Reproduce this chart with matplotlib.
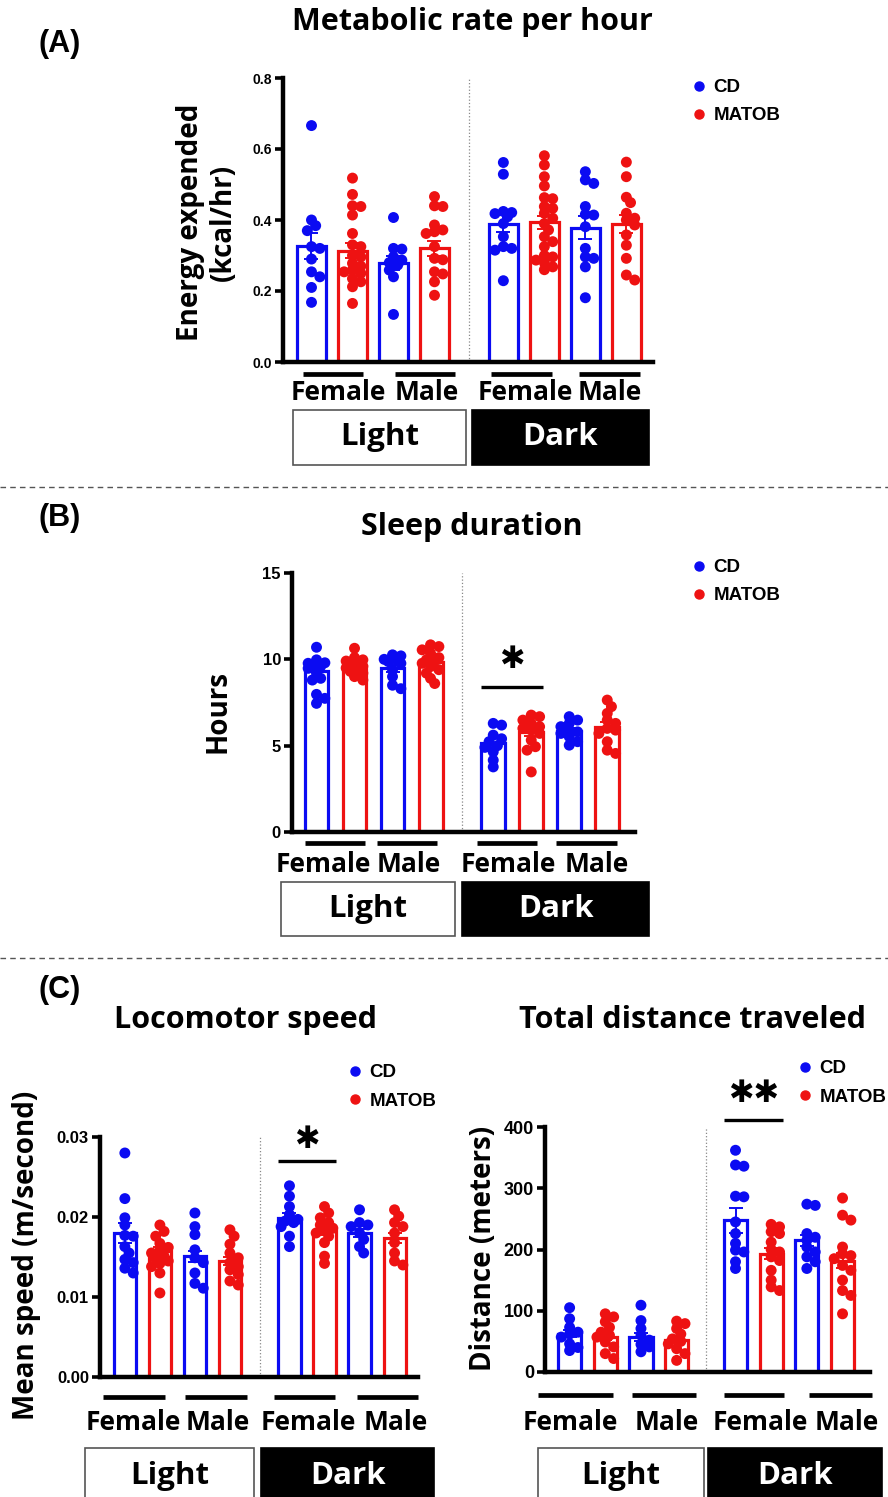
import numpy as np
import matplotlib
matplotlib.use('Agg')
import matplotlib.pyplot as plt
from matplotlib.patches import Rectangle
from matplotlib.lines import Line2D

W, H = 888, 1497
BLUE = '#0B0BF2'
RED = '#EE1212'
TXT = 'Open Sans'
NUM = 'Liberation Sans'

sexes = ['Female', 'Male', 'Female', 'Male']
phases = ['Light', 'Dark']
diets = ['CD', 'MATOB']

# ---- (A) energy expended (kcal/hr); order: L-F-CD, L-F-MATOB, L-M-CD, L-M-MATOB, D-F-CD, ...
met_points = [
    [0.666, 0.384, 0.40, 0.37, 0.325, 0.32, 0.29, 0.254, 0.24, 0.21, 0.168],
    [0.518, 0.472, 0.44, 0.438, 0.414, 0.362, 0.33, 0.325, 0.30, 0.296, 0.278, 0.27,
     0.259, 0.254, 0.25, 0.235, 0.226, 0.212, 0.165],
    [0.407, 0.32, 0.318, 0.296, 0.287, 0.28, 0.273, 0.259, 0.24, 0.134],
    [0.466, 0.44, 0.438, 0.386, 0.372, 0.367, 0.362, 0.325, 0.292, 0.288, 0.254,
     0.248, 0.226, 0.188],
    [0.562, 0.529, 0.424, 0.421, 0.418, 0.409, 0.39, 0.353, 0.325, 0.32, 0.315, 0.229],
    [0.581, 0.555, 0.522, 0.496, 0.463, 0.46, 0.438, 0.433, 0.419, 0.405, 0.39, 0.372,
     0.353, 0.339, 0.325, 0.30, 0.296, 0.287, 0.28, 0.268, 0.26],
    [0.536, 0.513, 0.503, 0.438, 0.416, 0.414, 0.381, 0.32, 0.296, 0.292, 0.268, 0.181],
    [0.563, 0.522, 0.464, 0.449, 0.419, 0.405, 0.40, 0.386, 0.358, 0.329, 0.292,
     0.245, 0.231],
]
met_means = [0.327, 0.314, 0.278, 0.32, 0.39, 0.393, 0.378, 0.388]
met_sem = [0.036, 0.02, 0.02, 0.022, 0.025, 0.017, 0.032, 0.025]

# ---- (B) sleep duration (hours)
sleep_points = [
    [10.7, 9.97, 9.77, 9.62, 9.48, 9.2, 8.9, 8.8, 7.97, 7.74, 7.45, 9.6, 9.8],
    [10.64, 10.1, 9.97, 9.9, 9.87, 9.77, 9.6, 9.58, 9.5, 9.4, 9.3, 9.2, 9.0, 8.8],
    [10.26, 10.2, 10.0, 9.97, 9.87, 9.77, 9.4, 9.0, 8.5, 8.3],
    [10.84, 10.74, 10.55, 10.35, 10.1, 9.97, 9.9, 9.77, 9.58, 9.4, 9.2, 8.9, 8.6],
    [6.29, 6.19, 5.61, 5.4, 5.23, 5.0, 4.9, 4.64, 4.16, 3.77],
    [6.77, 6.68, 6.48, 6.29, 6.1, 6.0, 5.9, 5.71, 5.32, 4.94, 4.74, 3.48],
    [6.68, 6.48, 6.29, 6.1, 5.9, 5.8, 5.71, 5.52, 5.23, 5.03],
    [7.64, 7.26, 6.87, 6.48, 6.29, 6.0, 5.9, 5.71, 5.23, 4.74, 4.55],
]
sleep_means = [9.33, 9.6, 9.48, 9.87, 5.17, 5.77, 5.86, 6.1]
sleep_sem = [0.3, 0.12, 0.2, 0.15, 0.25, 0.2, 0.15, 0.25]

# ---- (C) locomotor speed (m/second)
speed_points = [
    [0.028, 0.0223, 0.0199, 0.019, 0.0177, 0.0176, 0.0163, 0.0155, 0.0147, 0.0143,
     0.0136, 0.013],
    [0.019, 0.0182, 0.0176, 0.0167, 0.0162, 0.0158, 0.0155, 0.0151, 0.0148, 0.0145,
     0.0142, 0.0138, 0.013, 0.0105],
    [0.0205, 0.0188, 0.0178, 0.0159, 0.0149, 0.0143, 0.013, 0.0117, 0.0111],
    [0.0184, 0.0176, 0.0166, 0.0155, 0.0149, 0.0143, 0.0138, 0.0134, 0.0128, 0.012,
     0.0115],
    [0.0239, 0.0226, 0.0213, 0.0203, 0.0197, 0.0195, 0.0193, 0.0188, 0.0176, 0.0163],
    [0.0213, 0.0205, 0.0199, 0.0193, 0.019, 0.0186, 0.0183, 0.018, 0.0176, 0.0168,
     0.0151, 0.0142],
    [0.0209, 0.0193, 0.019, 0.0188, 0.018, 0.0172, 0.0163, 0.0155],
    [0.0209, 0.0201, 0.0193, 0.0188, 0.018, 0.0168, 0.0155, 0.0145, 0.014],
]
speed_means = [0.018, 0.0157, 0.0151, 0.0145, 0.0199, 0.0182, 0.018, 0.0174]
speed_sem = [0.0012, 0.0006, 0.0007, 0.0005, 0.0006, 0.0005, 0.0005, 0.0006]

# ---- (C) total distance (meters)
dist_points = [
    [105, 87, 73, 65, 62, 57, 46, 40, 35],
    [95, 90, 82, 73, 65, 60, 57, 49, 41, 30, 22],
    [109, 84, 71, 60, 52, 45, 41, 33],
    [83, 79, 71, 62, 54, 50, 46, 38, 30, 19],
    [362, 338, 336, 287, 286, 245, 226, 210, 199, 196, 180, 169],
    [241, 237, 229, 226, 212, 200, 196, 188, 182, 166, 150, 139, 133],
    [274, 272, 226, 220, 215, 204, 196, 188, 180, 169],
    [284, 256, 248, 204, 193, 190, 185, 174, 166, 150, 133, 125, 95],
]
dist_means = [62.6, 57, 57, 51.7, 247.6, 193, 215, 182]
dist_sem = [6, 5, 6, 4, 20, 9, 9, 13]

plt.rcParams['font.family'] = [TXT, 'DejaVu Sans']
fig = plt.figure(figsize=(W / 100, H / 100), dpi=100)


def fx(x):
    return x / W


def fy(y):
    return 1 - y / H


def swarm(vals, sx, sy, d, maxoff):
    # deterministic beeswarm offsets (data units), kept inside the bar
    vals = np.asarray(vals, float)
    order = np.argsort(-vals)
    placed = []
    offs = np.zeros(len(vals))
    step = d * 0.38
    cands = [k * step for k in (0, 1, -1, 2, -2, 3, -3) if abs(k * step) <= maxoff]
    for i in order:
        y = vals[i] * sy
        best, bestd = 0, -1
        for x in cands:
            dmin = min([np.hypot(x - px, y - py) for px, py in placed] or [1e9])
            if dmin >= 0.6 * d:
                best = x
                break
            if dmin > bestd:
                best, bestd = x, dmin
        placed.append((best, y))
        offs[i] = best / sx
    return offs


def panel(box, xlim, gap, width, ylim, yticks, yfmt, tick_fs,
          points, means, sems, ylabel, ylab_xy, ylab_fs,
          underlines, ul_y, lab_x, lab_y, boxes, box_y, sig=None):
    l, t, r, b = box
    ax = fig.add_axes([fx(l), fy(b), fx(r - l), (b - t) / H])
    pos = np.array([0, 1, 2, 3, 3 + gap, 4 + gap, 5 + gap, 6 + gap])
    cols = [BLUE, RED] * 4
    ax.set_xlim(*xlim)
    ax.set_ylim(*ylim)
    sx = (r - l) / (xlim[1] - xlim[0])
    sy = (b - t) / (ylim[1] - ylim[0])

    ax.bar(pos, means, width=width, facecolor='white', edgecolor=cols,
           linewidth=2.3, zorder=2)
    for p, pts, c in zip(pos, points, cols):
        off = swarm(pts, sx, sy, 11, width * sx * 0.42)
        ax.scatter(p + off, pts, s=62, color=c, edgecolors='none', zorder=3)
    for p, m, e, c in zip(pos, means, sems, cols):
        ax.errorbar(p, m, yerr=e, fmt='none', ecolor=c, elinewidth=1.4,
                    capsize=5, capthick=1.4, zorder=4)

    divider = 3 + gap / 2 + 0.005
    ax.axvline(divider, color='#888888', ls=':', lw=0.9, zorder=1)

    for s in ['top', 'right']:
        ax.spines[s].set_visible(False)
    for s in ['left', 'bottom']:
        ax.spines[s].set_linewidth(3.2)
    ax.set_xticks([])
    ax.set_yticks(yticks)
    ax.set_yticklabels([yfmt.format(v) for v in yticks])
    ax.tick_params(axis='y', width=2.6, length=6, pad=2, labelsize=tick_fs)
    for tl in ax.get_yticklabels():
        tl.set_fontfamily(NUM)
        tl.set_fontweight('bold')

    fig.text(fx(ylab_xy[0]), fy(ylab_xy[1]), ylabel, rotation=90, ha='center',
             va='center', fontsize=ylab_fs, fontweight='bold', linespacing=1.15)

    trans = ax.get_xaxis_transform()

    def yf(ypx):
        return (b - ypx) / (b - t)

    for x0, x1 in underlines:
        ax.plot([x0, x1], [yf(ul_y)] * 2, color='black',
                lw=3.4, transform=trans, clip_on=False, solid_capstyle='butt')
    for x, s in zip(lab_x, sexes):
        ax.text(x, yf(lab_y), s, transform=trans, ha='center', va='center',
                fontsize=19, fontweight='bold')
    for (x0, x1), ph in zip(boxes, phases):
        dark = ph == 'Dark'
        ax.add_patch(Rectangle((x0, yf(box_y[1])), x1 - x0, yf(box_y[0]) - yf(box_y[1]),
                               transform=trans, clip_on=False,
                               facecolor='black' if dark else 'white',
                               edgecolor='black' if dark else '#555555', lw=1.2))
        ax.text((x0 + x1) / 2, yf(box_y[2]), ph,
                transform=trans, ha='center', va='center', fontsize=22.5,
                fontweight='bold', color='white' if dark else 'black')

    if sig is not None:
        y_line, y_star, mark = sig
        x0 = pos[4] - width / 2
        x1 = pos[5] + width / 2
        ax.plot([x0, x1], [y_line, y_line], color='black', lw=2.4, clip_on=False,
                solid_capstyle='butt')
        ax.text((x0 + x1) / 2, y_star, mark, ha='center', va='center', fontsize=22,
                family='DejaVu Sans', fontweight='bold', clip_on=False)
    return ax


def legend(ax, x, y):
    handles = [Line2D([], [], marker='o', ls='', color=c, markersize=6.5) for c in (BLUE, RED)]
    ax.legend(handles, diets, loc='upper left', bbox_to_anchor=(fx(x), fy(y)),
              bbox_transform=fig.transFigure, frameon=False, borderpad=0,
              borderaxespad=0, handletextpad=0.25, handlelength=1.0,
              labelspacing=0.6, prop=dict(family=NUM, weight='bold', size=13.5))


STAR = '\u2731'

# (A)
axA = panel((283, 78, 653, 362), (-0.695, 8.33), 1.68, 0.71, (0, 0.8),
            [0, 0.2, 0.4, 0.6, 0.8], '{:.1f}', 10, met_points, met_means, met_sem,
            'Energy expended\n(kcal/hr)', (207, 222), 20,
            [(-0.21, 1.26), (2.04, 3.5), (4.38, 5.87), (6.52, 8.01)], 374,
            [0.65, 2.82, 5.21, 7.28], 393,
            [(-0.45, 3.77), (3.91, 8.23)], (410, 465, 437))
legend(axA, 690, 79)

# (B)
axB = panel((292, 573, 635, 832), (-0.645, 8.38), 1.65, 0.63, (0, 15),
            [0, 5, 10, 15], '{:.0f}', 12, sleep_points, sleep_means, sleep_sem,
            'Hours', (218, 712), 20,
            [(-0.3, 1.28), (1.59, 3.17), (4.22, 5.8), (6.3, 7.9)], 843,
            [0.17, 2.43, 5.04, 7.38], 865,
            [(-0.93, 3.64), (3.83, 8.75)], (882, 936, 909), sig=(8.38, 10.0, STAR))
legend(axB, 690, 559)

# (C) left
axC1 = panel((100, 1137, 418, 1377), (-0.71, 8.37), 1.7, 0.63, (0, 0.03),
             [0, 0.01, 0.02, 0.03], '{:.2f}', 12, speed_points, speed_means, speed_sem,
             'Mean speed (m/second)', (27, 1255), 20,
             [(-0.63, 1.14), (1.71, 3.49), (4.26, 6.0), (6.63, 8.37)], 1397,
             [0.23, 2.66, 5.23, 7.74], 1422,
             [(-1.14, 3.69), (3.89, 8.83)], (1448, 1510, 1476),
             sig=(0.027, 0.0297, STAR))
legend(axC1, 346, 1064)

# (C) right
axC2 = panel((545, 1127, 870, 1372), (-0.69, 8.42), 1.65, 0.65, (0, 400),
             [0, 100, 200, 300, 400], '{:.0f}', 13, dist_points, dist_means, dist_sem,
             'Distance (meters)', (483, 1248), 20,
             [(-0.88, 1.22), (1.75, 3.54), (4.33, 6.0), (6.71, 8.47)], 1395,
             [0.01, 2.73, 5.34, 7.77], 1422,
             [(-0.88, 3.77), (3.88, 8.75)], (1448, 1510, 1476),
             sig=(412, 454, STAR + STAR))
legend(axC2, 796, 1060)

# titles and panel letters
for x, y, s in [(472, 22, 'Metabolic rate per hour'), (472, 527, 'Sleep duration'),
                (245, 1020, 'Locomotor speed'), (692, 1020, 'Total distance traveled')]:
    fig.text(fx(x), fy(y), s, ha='center', va='center', fontsize=22, fontweight='bold')
for y, s in [(44, '(A)'), (518, '(B)'), (990, '(C)')]:
    fig.text(fx(60), fy(y), s, ha='center', va='center', fontsize=22,
             fontweight='bold', family=NUM)

# dashed separators between panels
for y in (487, 958):
    fig.add_artist(Line2D([0, 1], [fy(y), fy(y)], transform=fig.transFigure,
                          color='#555555', lw=1.0, ls=(0, (4, 3))))

fig.savefig('out.png', dpi=100)
